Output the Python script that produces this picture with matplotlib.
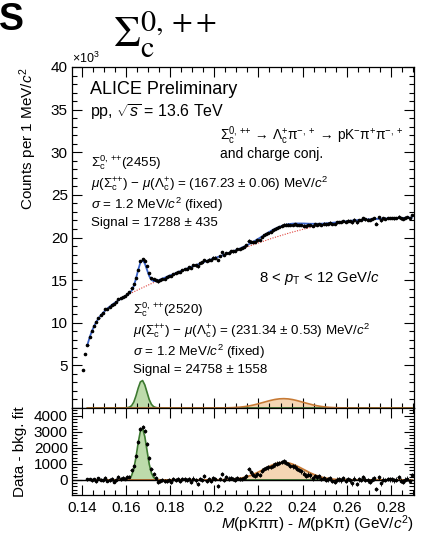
import numpy as np
import matplotlib
matplotlib.use("Agg")
import matplotlib.pyplot as plt
from matplotlib.ticker import MultipleLocator, FuncFormatter

plt.rcParams["font.family"] = ["Liberation Sans", "DejaVu Sans"]
plt.rcParams["mathtext.fontset"] = "custom"
plt.rcParams["mathtext.rm"] = "Liberation Sans"
plt.rcParams["mathtext.it"] = "Liberation Sans:italic"
plt.rcParams["mathtext.bf"] = "Liberation Sans:bold"
plt.rcParams["mathtext.sf"] = "Liberation Sans"

# 1 MeV bins, fit range starts at 0.1425 GeV/c2
bin_width = 0.001
first_center = 0.1425

# two bins below the fit range (only shown in the upper pad)
mass_low = [0.1405, 0.1415]
counts_low = [4500, 6300]

# background fit evaluated at bin centres
bkg = [7400, 8300, 9000, 9600, 10100, 10500, 10850, 11150, 11420, 11660,
       11880, 12080, 12270, 12450, 12620, 12780, 12930, 13080, 13220, 13360,
       13500, 13630, 13760, 13880, 14000, 14120, 14240, 14360, 14480, 14600,
       14720, 14840, 14950, 15060, 15170, 15280, 15390, 15500, 15610, 15720,
       15830, 15940, 16050, 16150, 16250, 16350, 16450, 16550, 16650, 16750,
       16850, 16950, 17050, 17150, 17250, 17340, 17430, 17520, 17610, 17700,
       17790, 17880, 17970, 18060, 18150, 18240, 18330, 18420, 18510, 18600,
       18690, 18780, 18870, 18960, 19050, 19140, 19230, 19320, 19410, 19500,
       19590, 19680, 19770, 19860, 19940, 20020, 20100, 20180, 20260, 20340,
       20420, 20500, 20570, 20640, 20710, 20780, 20850, 20920, 20990, 21050,
       21110, 21170, 21230, 21290, 21340, 21390, 21440, 21490, 21540, 21590,
       21630, 21670, 21710, 21750, 21790, 21830, 21860, 21890, 21920, 21950,
       21980, 22010, 22030, 22050, 22070, 22090, 22110, 22130, 22150, 22160,
       22170, 22180, 22190, 22200, 22210, 22220, 22230, 22240, 22250, 22260,
       22270, 22280, 22290, 22300, 22310, 22320, 22330, 22340]

# data minus background fit
resid = [30, 60, -20, 40, -70, 110, 20, -30, 140, -40,
         10, 60, -100, -10, 170, 70, 130, 90, 170, 210,
         620, 880, 1500, 2350, 3200, 3330, 3050, 2250, 1350, 700,
         380, 120, -110, -60, 10, -90, -40, 20, -120, 30,
         -10, 60, -50, 80, 30, -20, 40, -150, 90, -30,
         -250, 60, 20, 250, -40, 70, -60, 120, 40, -370,
         60, 370, -20, 160, 90, 130, 40, 20, 130, 80,
         60, 140, 220, 670, 470, 330, 260, 350, 300, 580,
         680, 760, 780, 800, 900, 970, 1010, 1060, 1120, 1160,
         1090, 1000, 880, 850, 830, 700, 620, 540, 400, 260,
         340, 300, 110, 240, 170, 220, 60, 130, 0, 30,
         110, -60, -100, 20, 40, -20, 100, -40, 60, -20,
         -200, 80, -250, 30, 0, 170, 20, -30, -100, 10,
         110, -560, 170, -200, 20, 0, 60, 40, 30, -30,
         10, 170, -40, -100, 20, 80, -60, 310]

# signal components of the fit
sig2455 = [0] * 17 + [15, 35, 95, 270, 690, 1420, 2330, 3060, 3220, 2710,
                      1830, 990, 430, 160, 55, 20, 10] + [0] * 114
sig2520 = [0] * 58 + [3, 5, 6, 9, 13, 18, 24, 33, 44, 58,
                      75, 97, 123, 154, 191, 233, 282, 336, 396, 462,
                      531, 603, 677, 750, 822, 889, 949, 1002, 1044, 1074,
                      1092, 1097, 1088, 1066, 1031, 986, 931, 868, 799, 727,
                      654, 580, 509, 440, 377, 318, 265, 219, 178, 143,
                      114, 89, 69, 53, 40, 30, 22, 16, 12, 8,
                      6, 4] + [0] * 28

bkg = np.array(bkg, float)
resid = np.array(resid, float)
sig2455 = np.array(sig2455, float)
sig2520 = np.array(sig2520, float)
mass = first_center + bin_width * np.arange(len(bkg))
counts = bkg + resid
total = bkg + sig2455 + sig2520

all_mass = np.concatenate([mass_low, mass])
all_counts = np.concatenate([counts_low, counts])

BLUE = "#3a63c8"
RED = "#e0403a"
GREEN_EDGE = "#3d7a30"
GREEN_FILL = "#bddbab"
ORANGE_EDGE = "#c77a35"
ORANGE_FILL = "#f5d6b4"

W, H = 423, 536
fig = plt.figure(figsize=(W / 100, H / 100), dpi=100)
ax1 = fig.add_axes([72 / W, 1 - 408 / H, 342 / W, 341 / H])
ax2 = fig.add_axes([72 / W, 1 - 495 / H, 342 / W, 87 / H])


def fpos(x, y):
    return x / W, 1 - y / H


# upper pad: invariant-mass difference with fit
ax1.fill_between(mass, 0, sig2455, color=GREEN_FILL, lw=0)
ax1.plot(mass, sig2455, color=GREEN_EDGE, lw=1.2)
ax1.fill_between(mass, 0, sig2520, color=ORANGE_FILL, lw=0)
ax1.plot(mass, sig2520, color=ORANGE_EDGE, lw=1.2)
ax1.plot(mass, bkg, color=RED, lw=0.8, ls=(0, (1, 1.3)))
ax1.plot(mass, total, color=BLUE, lw=1.3)
ax1.errorbar(all_mass, all_counts, xerr=bin_width / 2, yerr=np.sqrt(all_counts),
             fmt="o", ms=1.6, color="black", elinewidth=0.6, capsize=0, zorder=5)

# lower pad: data minus background
ax2.fill_between(mass, 0, sig2455, color=GREEN_FILL, lw=0)
ax2.plot(mass, sig2455, color=GREEN_EDGE, lw=1.2)
ax2.fill_between(mass, 0, sig2520, color=ORANGE_FILL, lw=0)
ax2.plot(mass, sig2520, color=ORANGE_EDGE, lw=1.3)
ax2.axhline(0, color="black", lw=1.0, zorder=3)
ax2.errorbar(mass, resid, xerr=bin_width / 2, yerr=np.sqrt(counts),
             fmt="o", ms=1.6, color="black", elinewidth=0.6, capsize=0, zorder=5)

for ax in (ax1, ax2):
    ax.set_xlim(0.1355, 0.2905)
    ax.xaxis.set_major_locator(MultipleLocator(0.02))
    ax.xaxis.set_minor_locator(MultipleLocator(0.005))
    ax.tick_params(which="both", direction="in", top=True, right=True,
                   width=0.8, labelsize=11)
    ax.tick_params(which="major", length=7)
    ax.tick_params(which="minor", length=3.5)
    for s in ax.spines.values():
        s.set_linewidth(0.9)

ax1.set_ylim(0, 40000)
ax1.yaxis.set_major_locator(MultipleLocator(5000))
ax1.yaxis.set_minor_locator(MultipleLocator(1000))
ax1.yaxis.set_major_formatter(FuncFormatter(lambda v, p: "" if v == 0 else f"{v / 1000:g}"))
ax1.tick_params(axis="x", labelbottom=False)
ax1.tick_params(axis="y", pad=3)

ax2.set_ylim(-940, 4500)
ax2.yaxis.set_major_locator(MultipleLocator(1000))
ax2.yaxis.set_minor_locator(MultipleLocator(200))
ax2.xaxis.set_major_formatter(FuncFormatter(lambda v, p: f"{round(v, 3):g}"))
ax2.tick_params(axis="y", pad=3)
ax2.tick_params(axis="x", pad=4)

ax1.set_ylabel(r"Counts per 1 MeV/$c^{2}$", fontsize=11, loc="top")
ax1.yaxis.set_label_coords(-0.096, 1.0)
ax2.set_ylabel("Data - bkg. fit", fontsize=11)
ax2.yaxis.set_label_coords(-0.132, 0.5)
ax2.set_xlabel(r"$M$(pKππ) - $M$(pKπ) (GeV/$c^{2}$)", fontsize=11, loc="right")
ax2.xaxis.set_label_coords(1.0, -0.21)

fig.text(*fpos(72, 58), r"$\times$10$^{3}$", fontsize=9, va="center")

# header
fig.text(*fpos(-1, 20), "S", fontsize=27, fontweight="bold", va="center")
fig.text(*fpos(113, 34), r"$\Sigma_{\rm c}^{0,\,{+}\,{+}}$", fontsize=31, va="center",
         math_fontfamily="stix")

# annotations
SC = r"\Sigma_{\rm c}"
fig.text(*fpos(90, 89), "ALICE Preliminary", fontsize=13, va="center")
fig.text(*fpos(90, 112), r"pp, $\sqrt{s}$ = 13.6 TeV", fontsize=11.5, va="center")
fig.text(*fpos(220, 136),
         rf"${SC}^{{0,\,{{+}}{{+}}}}$ → $\Lambda_{{\rm c}}^{{+}}$π$^{{-,+}}$ → pK$^{{-}}$π$^{{+}}$π$^{{-,+}}$",
         fontsize=9.8, va="center")
fig.text(*fpos(220, 154), "and charge conj.", fontsize=10, va="center")

mu_diff = rf"$\mu({SC}^{{{{+}}{{+}}}})$ − $\mu(\Lambda_{{\rm c}}^{{+}})$"
block_2455 = [rf"${SC}^{{0,\,{{+}}{{+}}}}$(2455)",
              mu_diff + r" = (167.23 ± 0.06) MeV/$c^{2}$",
              r"$\sigma$ = 1.2 MeV/$c^{2}$ (fixed)",
              "Signal = 17288 ± 435"]
for txt, y in zip(block_2455, [163, 184, 205, 223]):
    fig.text(*fpos(91, y), txt, fontsize=9.6, va="center")

fig.text(*fpos(259, 278), r"8 < $p_{\rm T}$ < 12 GeV/$c$", fontsize=10.7, va="center")

block_2520 = [rf"${SC}^{{0,\,{{+}}{{+}}}}$(2520)",
              mu_diff + r" = (231.34 ± 0.53) MeV/$c^{2}$",
              r"$\sigma$ = 1.2 MeV/$c^{2}$ (fixed)",
              "Signal = 24758 ± 1558"]
for txt, y in zip(block_2520, [310, 331, 352, 370]):
    fig.text(*fpos(133, y), txt, fontsize=9.6, va="center")

fig.savefig("out.png", dpi=100)
